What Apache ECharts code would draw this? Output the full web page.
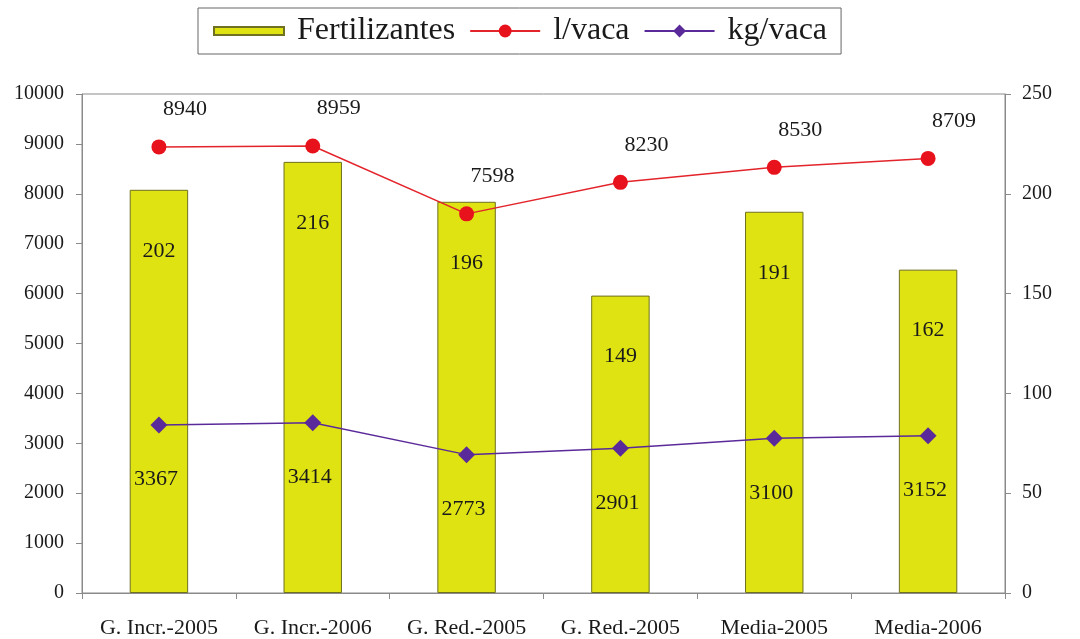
<!DOCTYPE html>
<html>
<head>
<meta charset="utf-8">
<script src="https://cdn.jsdelivr.net/npm/echarts@6/dist/echarts.min.js"></script>
<style>
  html, body { margin: 0; padding: 0; background: #fff; }
  #chart { width: 1080px; height: 639px; }
</style>
</head>
<body>
<div id="chart"></div>
<script>
// datos
const categories = ['G. Incr.-2005', 'G. Incr.-2006', 'G. Red.-2005', 'G. Red.-2005', 'Media-2005', 'Media-2006']
const fertilizantes = [202, 216, 196, 149, 191, 162]
const litrosVaca = [8940, 8959, 7598, 8230, 8530, 8709]
const kgVaca = [3367, 3414, 2773, 2901, 3100, 3152]

const fontFamily = '"Liberation Serif", "DejaVu Serif", serif'
const textColor = '#1a1a1a'
const axisColor = '#8a8a8a'

const chart = echarts.init(document.getElementById('chart'))

const option = {
  backgroundColor: '#fff',
  textStyle: { fontFamily: fontFamily, color: textColor },
  legend: {
    top: 8,
    left: 198,
    padding: [7, 14, 7, 15],
    borderColor: '#666',
    borderWidth: 1,
    itemWidth: 70,
    itemHeight: 16,
    itemGap: 14,
    textStyle: { fontFamily: fontFamily, fontSize: 32, color: textColor, padding: [0, 0, 0, 8] },
    data: [
      { name: 'Fertilizantes', icon: 'path://M0,0 H60 V7 H0 Z' },
      { name: 'l/vaca' },
      { name: 'kg/vaca' }
    ]
  },
  grid: {
    left: 82,
    right: 75,
    top: 94,
    bottom: 46,
    show: true,
    borderColor: axisColor,
    borderWidth: 1
  },
  xAxis: {
    type: 'category',
    data: categories,
    axisLine: { lineStyle: { color: axisColor } },
    axisTick: { show: true, length: 6, lineStyle: { color: axisColor } },
    axisLabel: {
      interval: 0,
      margin: 24,
      fontSize: 22,
      color: textColor,
      fontFamily: fontFamily
    },
    splitLine: { show: false }
  },
  yAxis: [
    {
      type: 'value',
      min: 0,
      max: 10000,
      interval: 1000,
      axisLine: { show: true, lineStyle: { color: axisColor } },
      axisTick: { show: true, length: 6, lineStyle: { color: axisColor } },
      axisLabel: {
        fontSize: 20,
        margin: 18,
        color: textColor,
        fontFamily: fontFamily,
        formatter: v => String(v)
      },
      splitLine: { show: false }
    },
    {
      type: 'value',
      min: 0,
      max: 250,
      interval: 50,
      position: 'right',
      axisLine: { show: true, lineStyle: { color: axisColor } },
      axisTick: { show: true, length: 6, lineStyle: { color: axisColor } },
      axisLabel: { fontSize: 20, margin: 17, color: textColor, fontFamily: fontFamily },
      splitLine: { show: false }
    }
  ],
  series: [
    {
      name: 'Fertilizantes',
      type: 'bar',
      yAxisIndex: 1,
      data: fertilizantes,
      barWidth: '38%',
      z: 1,
      itemStyle: {
        color: '#dfe312',
        borderColor: '#6f7020',
        borderWidth: 1
      },
      label: {
        show: true,
        position: 'insideTop',
        offset: [0, 45],
        fontSize: 22,
        color: textColor,
        fontFamily: fontFamily
      }
    },
    {
      name: 'l/vaca',
      type: 'line',
      yAxisIndex: 0,
      data: litrosVaca,
      symbol: 'circle',
      symbolSize: 15,
      z: 3,
      lineStyle: { color: '#e3242b', width: 1.5 },
      itemStyle: { color: '#e8121c' },
      label: {
        show: true,
        position: 'top',
        offset: [26, -14],
        fontSize: 22,
        color: textColor,
        fontFamily: fontFamily
      }
    },
    {
      name: 'kg/vaca',
      type: 'line',
      yAxisIndex: 0,
      data: kgVaca,
      symbol: 'diamond',
      symbolSize: 17,
      z: 3,
      lineStyle: { color: '#5b2a9a', width: 1.5 },
      itemStyle: { color: '#5b2a9a' },
      label: {
        show: true,
        position: 'bottom',
        offset: [-3, 30],
        fontSize: 22,
        color: textColor,
        fontFamily: fontFamily
      }
    }
  ]
}

chart.setOption(option)
</script>
</body>
</html>
